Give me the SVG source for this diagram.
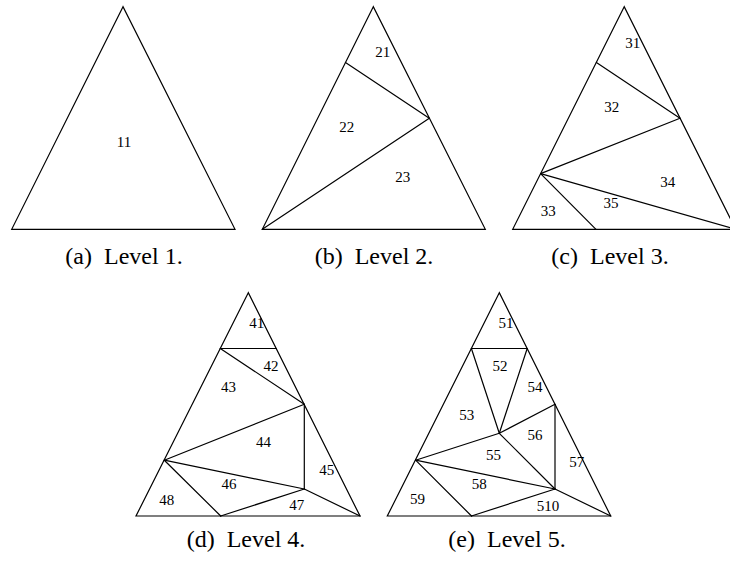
<svg xmlns="http://www.w3.org/2000/svg" width="730" height="563" viewBox="0 0 730 563">
<style>
.e{stroke:#000;stroke-width:1.2;fill:none;stroke-linejoin:miter;stroke-linecap:round}
.t{stroke:#000;stroke-width:1.2;fill:#fff}
.n{font-family:'Liberation Serif','Times New Roman',serif;font-size:15px;text-anchor:middle;dominant-baseline:central;fill:#000}
.c{font-family:'Liberation Serif','Times New Roman',serif;font-size:24px;text-anchor:middle;fill:#000}
</style>
<rect width="730" height="563" fill="#fff"/>
<g id="panel-a">
<polygon class="t" points="123,6.7 11.7,229.3 235,229.3"/>
<text class="n" x="124" y="142">11</text>
<text class="c" x="124" y="264">(a)<tspan dx="6"> Level 1.</tspan></text>
</g>
<g id="panel-b">
<polygon class="t" points="373.3,6.7 262.3,229.3 485.3,229.3"/>
<g id="connectors-b">
<line class="e" x1="345.5" y1="62.5" x2="429.3" y2="118.3"/>
<line class="e" x1="262.3" y1="229.3" x2="429.3" y2="118.3"/>
</g>
<text class="n" x="382.7" y="51.5">21</text>
<text class="n" x="346.7" y="126.7">22</text>
<text class="n" x="402.7" y="176.7">23</text>
<text class="c" x="374" y="264">(b)<tspan dx="6"> Level 2.</tspan></text>
</g>
<g id="panel-c">
<polygon class="t" points="624.2,6.7 512.7,229.3 735.7,229.3"/>
<g id="connectors-c">
<line class="e" x1="596.4" y1="62.5" x2="680" y2="118.3"/>
<line class="e" x1="540.6" y1="173.6" x2="680" y2="118.3"/>
<line class="e" x1="540.6" y1="173.6" x2="735.7" y2="229.3"/>
<line class="e" x1="540.6" y1="173.6" x2="596" y2="229.3"/>
</g>
<text class="n" x="632.7" y="43.3">31</text>
<text class="n" x="611.7" y="107.3">32</text>
<text class="n" x="667.7" y="182">34</text>
<text class="n" x="611" y="202.5">35</text>
<text class="n" x="548.3" y="210.7">33</text>
<text class="c" x="610" y="264">(c)<tspan dx="6"> Level 3.</tspan></text>
</g>
<g id="panel-d">
<polygon class="t" points="248.3,292.7 136,516 360,516"/>
<g id="connectors-d">
<line class="e" x1="220.3" y1="348.5" x2="276.3" y2="348.5"/>
<line class="e" x1="220.3" y1="348.5" x2="304.3" y2="404.3"/>
<line class="e" x1="164.3" y1="460.2" x2="304.3" y2="404.3"/>
<line class="e" x1="304.3" y1="404.3" x2="304.3" y2="489"/>
<line class="e" x1="164.3" y1="460.2" x2="304.3" y2="489"/>
<line class="e" x1="164.3" y1="460.2" x2="220.7" y2="516"/>
<line class="e" x1="220.7" y1="516" x2="304.3" y2="489"/>
<line class="e" x1="304.3" y1="489" x2="360" y2="516"/>
</g>
<text class="n" x="256.7" y="323">41</text>
<text class="n" x="271" y="366">42</text>
<text class="n" x="228.5" y="386.5">43</text>
<text class="n" x="263.5" y="442">44</text>
<text class="n" x="326.7" y="469.5">45</text>
<text class="n" x="229" y="484">46</text>
<text class="n" x="296.7" y="505">47</text>
<text class="n" x="166.7" y="500">48</text>
<text class="c" x="246" y="547">(d)<tspan dx="6"> Level 4.</tspan></text>
</g>
<g id="panel-e">
<polygon class="t" points="499.3,292.7 387.3,516 610.7,516"/>
<g id="connectors-e">
<line class="e" x1="471.4" y1="348.5" x2="527.2" y2="348.5"/>
<line class="e" x1="471.4" y1="348.5" x2="499.3" y2="433.3"/>
<line class="e" x1="527.2" y1="348.5" x2="499.3" y2="433.3"/>
<line class="e" x1="499.3" y1="433.3" x2="555" y2="404.3"/>
<line class="e" x1="499.3" y1="433.3" x2="415.6" y2="460.2"/>
<line class="e" x1="499.3" y1="433.3" x2="555" y2="489"/>
<line class="e" x1="555" y1="404.3" x2="555" y2="489"/>
<line class="e" x1="415.6" y1="460.2" x2="555" y2="489"/>
<line class="e" x1="415.6" y1="460.2" x2="471.5" y2="516"/>
<line class="e" x1="471.5" y1="516" x2="555" y2="489"/>
<line class="e" x1="555" y1="489" x2="610.7" y2="516"/>
</g>
<text class="n" x="506" y="323">51</text>
<text class="n" x="500" y="366">52</text>
<text class="n" x="466.7" y="414.5">53</text>
<text class="n" x="535" y="387">54</text>
<text class="n" x="493.5" y="455">55</text>
<text class="n" x="535" y="434.5">56</text>
<text class="n" x="576.7" y="462">57</text>
<text class="n" x="479.3" y="484">58</text>
<text class="n" x="417.5" y="498.5">59</text>
<text class="n" x="548" y="505.5">510</text>
<text class="c" x="507" y="547">(e)<tspan dx="6"> Level 5.</tspan></text>
</g>
</svg>
